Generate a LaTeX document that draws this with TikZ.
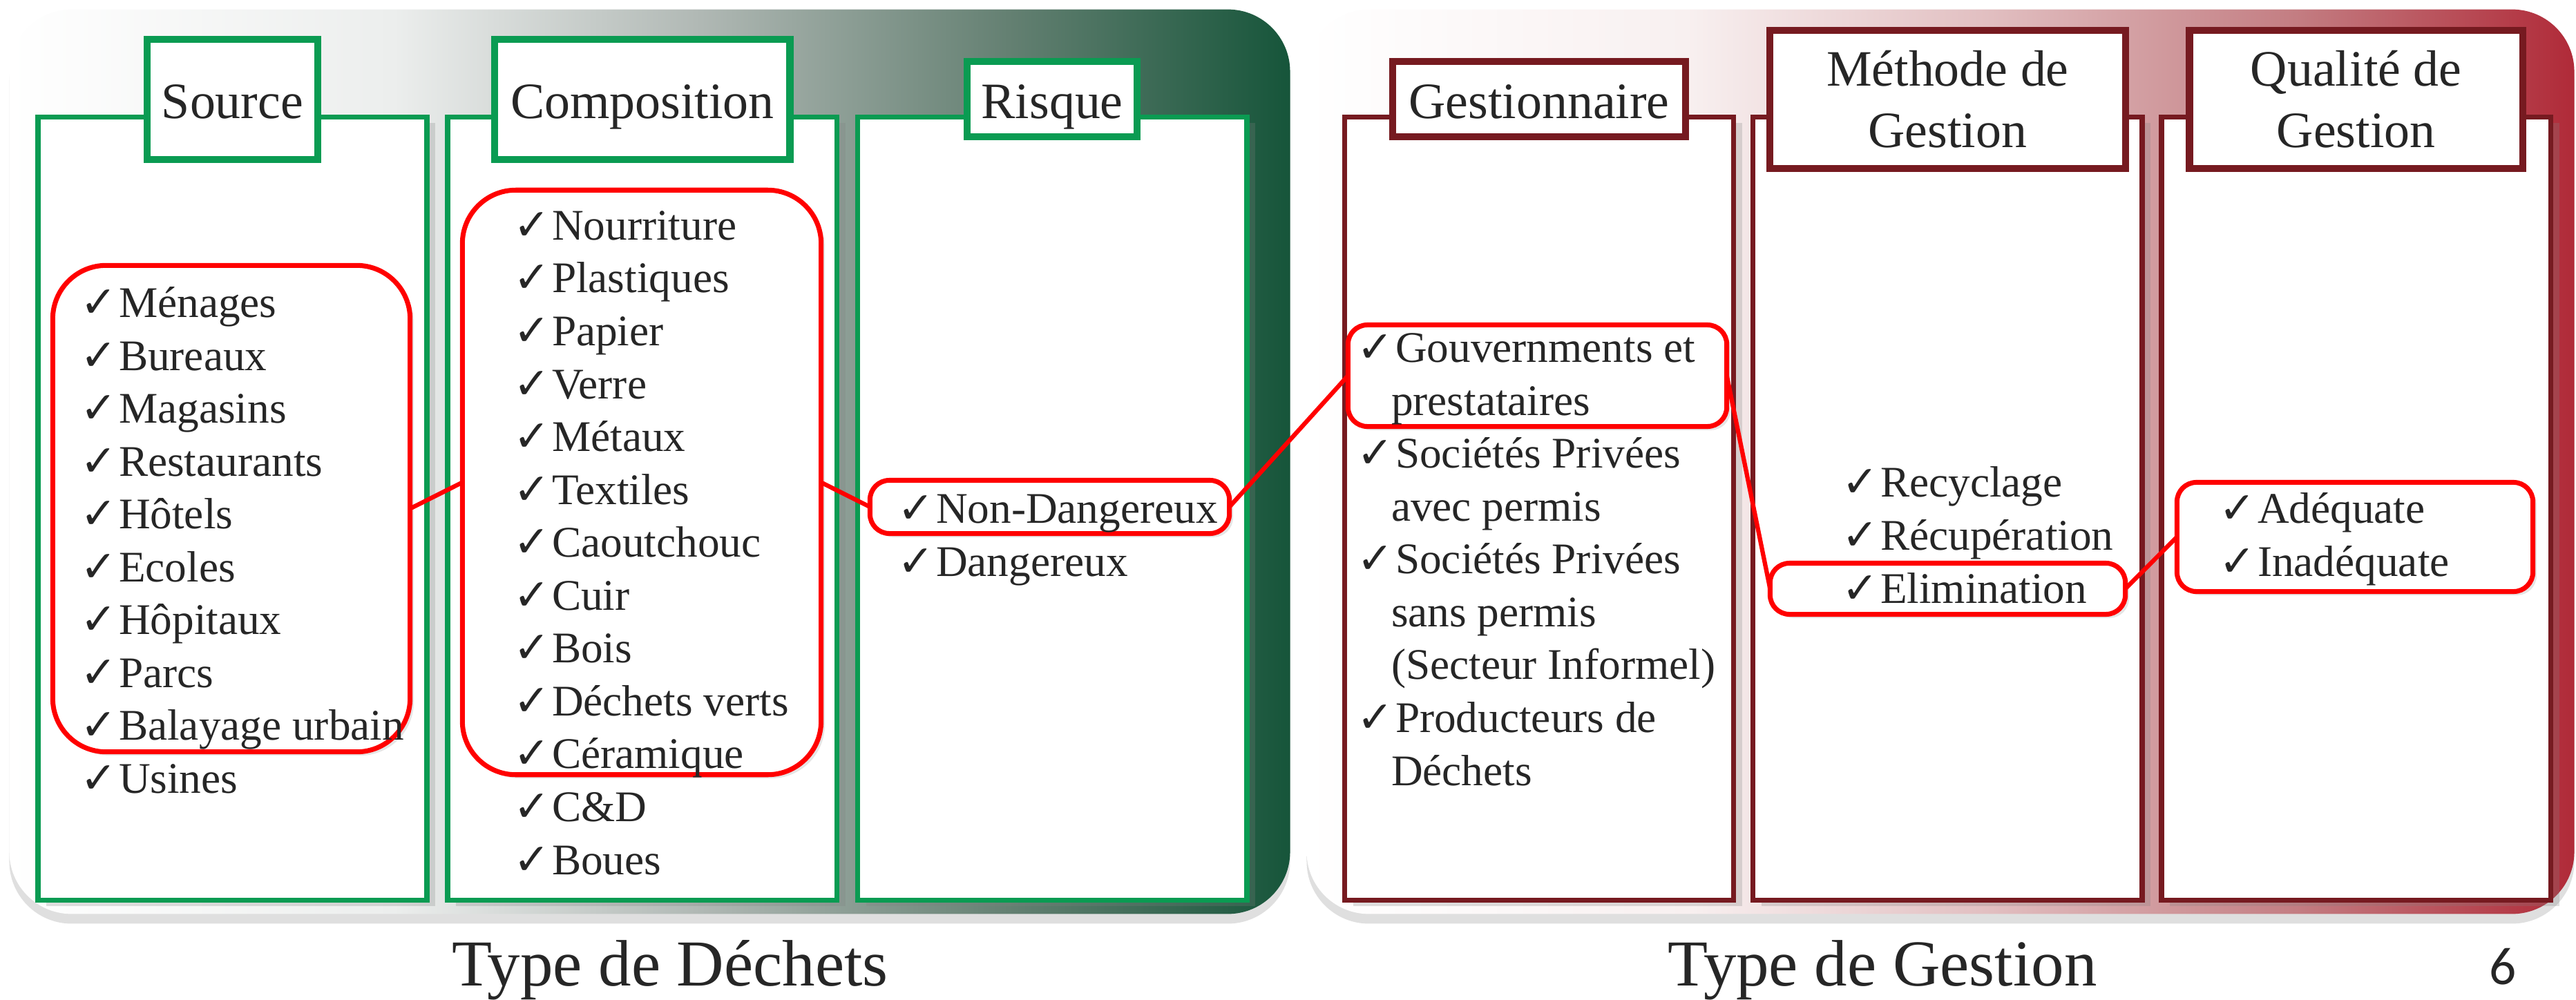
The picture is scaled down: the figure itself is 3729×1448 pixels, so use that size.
\documentclass[tikz,border=0pt]{standalone}
\usepackage{fontspec}
\setmainfont{Liberation Serif}
\newfontfamily\chkfont{DejaVu Sans}
\newfontfamily\numfont{Carlito}
\usetikzlibrary{positioning, shadows}
\definecolor{LeafGreen}{RGB}{10,155,82}
\definecolor{Burgundy}{RGB}{118,26,32}
\definecolor{InkGray}{RGB}{38,38,38}
\definecolor{gfA}{RGB}{236,238,237}
\definecolor{gfB}{RGB}{176,184,180}
\definecolor{gfC}{RGB}{100,128,114}
\definecolor{gfD}{RGB}{22,85,58}
\definecolor{rfA}{RGB}{248,240,240}
\definecolor{rfB}{RGB}{225,190,192}
\definecolor{rfC}{RGB}{195,125,130}
\definecolor{rfD}{RGB}{176,42,56}
\pgfdeclarehorizontalshading{greenfade}{100bp}{color(0bp)=(white); color(25bp)=(white); color(40bp)=(gfA); color(52bp)=(gfB); color(64bp)=(gfC); color(75bp)=(gfD); color(100bp)=(gfD)}
\pgfdeclarehorizontalshading{redfade}{100bp}{color(0bp)=(white); color(25bp)=(white); color(40bp)=(rfA); color(52bp)=(rfB); color(64bp)=(rfC); color(75bp)=(rfD); color(100bp)=(rfD)}
\newcommand{\chk}{\makebox[0.56cm][l]{\chkfont\bfseries ✓}}
\newcommand{\cont}{\hspace*{0.5cm}}

\begin{document}
\begin{tikzpicture}[x=0.01cm, y=-0.01cm,
    panel/.style={rectangle, rounded corners=0.9cm, inner sep=0, outer sep=0, minimum height=13.09cm,
      drop shadow={shadow xshift=0pt, shadow yshift=-4pt, opacity=0.25}},
    column/.style={rectangle, fill=white, line width=2.1pt, inner sep=0, outer sep=0,
      minimum width=5.63cm, minimum height=11.33cm,
      drop shadow={shadow xshift=3.5pt, shadow yshift=-2.5pt, opacity=0.25}},
    greencol/.style={column, draw=LeafGreen},
    redcol/.style={column, draw=Burgundy},
    ttl/.style={rectangle, fill=white, line width=2.9pt, inner sep=0, outer sep=0, align=center,
      text=InkGray, font=\fontsize{21pt}{25.3pt}\selectfont},
    ttlone/.style={ttl, text height=16pt, text depth=0pt},
    sel/.style={rectangle, draw=red, fill=white, line width=2pt, inner sep=0, outer sep=0, rounded corners=8pt,
      drop shadow={shadow xshift=1.5pt, shadow yshift=-1.5pt, opacity=0.2}},
    itemlist/.style={anchor=base west, align=left, inner sep=0, outer sep=0, text=InkGray,
      font=\fontsize{18pt}{21.77pt}\selectfont},
    caption/.style={anchor=base, inner sep=0, text=InkGray, font=\fontsize{27pt}{32pt}\selectfont},
    link/.style={draw=red, line width=1.8pt}]
  \useasboundingbox (0,0) rectangle (3729,1448);

  % Panels
  \node [panel, shade, shading=greenfade, minimum width=18.53cm] (wastepanel) at (940.5,668.5) {};
  \node [panel, shade, shading=redfade, minimum width=18.34cm] (mgmtpanel) at (2809,668.5) {};

  % Columns
  \node [greencol] (srccol) at (336.5,736.5) {};
  \node [greencol, right=0.3cm of srccol] (compcol) {};
  \node [greencol, right=0.3cm of compcol] (riskcol) {};
  \node [redcol] (gestcol) at (2228,736.5) {};
  \node [redcol, right=0.28cm of gestcol] (methcol) {};
  \node [redcol, right=0.28cm of methcol] (qualcol) {};

  % Titles
  \node [ttlone, draw=LeafGreen, minimum width=2.47cm, minimum height=1.74cm] (srcttl) at ([yshift=0.26cm]srccol.north) {Source};
  \node [ttlone, draw=LeafGreen, minimum width=4.27cm, minimum height=1.74cm] (compttl) at ([yshift=0.26cm]compcol.north) {Composition};
  \node [ttlone, draw=LeafGreen, minimum width=2.46cm, minimum height=1.09cm] (riskttl) at ([yshift=0.26cm]riskcol.north) {Risque};
  \node [ttlone, draw=Burgundy, minimum width=4.24cm, minimum height=1.09cm] (gestttl) at ([yshift=0.26cm]gestcol.north) {Gestionnaire};
  \node [ttl, draw=Burgundy, minimum width=5.15cm, minimum height=2.0cm] (methttl) at ([yshift=0.26cm]methcol.north) {Méthode de\\Gestion};
  \node [ttl, draw=Burgundy, minimum width=4.82cm, minimum height=2.0cm] (qualttl) at ([yshift=0.26cm]qualcol.north) {Qualité de\\Gestion};

  % Highlights
  \node [sel, rounded corners=22pt, minimum width=5.17cm, minimum height=7.04cm] (srcsel) at (335,736.5) {};
  \node [sel, rounded corners=22pt, minimum width=5.19cm, minimum height=8.46cm] (compsel) at (929,698.5) {};
  \node [sel, minimum width=5.20cm, minimum height=0.77cm] (nondsel) at (1519.5,734) {};
  \node [sel, minimum width=5.48cm, minimum height=1.47cm] (gouvsel) at (2225.5,544) {};
  \node [sel, minimum width=5.14cm, minimum height=0.74cm] (elimsel) at (2819.5,852.5) {};
  \node [sel, minimum width=5.15cm, minimum height=1.58cm] (qualsel) at (3409,777.5) {};

  % Lists (anchored on the baseline of the last line)
  \node [itemlist] (srclist) at (116,1148.5) {\chk Ménages\\ \chk Bureaux\\ \chk Magasins\\ \chk Restaurants\\ \chk Hôtels\\ \chk Ecoles\\ \chk Hôpitaux\\ \chk Parcs\\ \chk Balayage urbain\\ \chk Usines};
  \node [itemlist] (complist) at (743,1266) {\chk Nourriture\\ \chk Plastiques\\ \chk Papier\\ \chk Verre\\ \chk Métaux\\ \chk Textiles\\ \chk Caoutchouc\\ \chk Cuir\\ \chk Bois\\ \chk Déchets verts\\ \chk Céramique\\ \chk C\&D\\ \chk Boues};
  \node [itemlist] (risklist) at (1299,834.5) {\chk Non-Dangereux\\ \chk Dangereux};
  \node [itemlist] (gestlist) at (1964,1137) {\chk Gouvernments et\\ \cont prestataires\\ \chk Sociétés Privées\\ \cont avec permis\\ \chk Sociétés Privées\\ \cont sans permis\\ \cont (Secteur Informel)\\ \chk Producteurs de\\ \cont Déchets};
  \node [itemlist] (methlist) at (2666,873) {\chk Recyclage\\ \chk Récupération\\ \chk Elimination};
  \node [itemlist] (quallist) at (3212,834.5) {\chk Adéquate\\ \chk Inadéquate};

  % Connectors
  \draw [link] (srcsel.east) -- (compsel.west);
  \draw [link] (compsel.east) -- (nondsel.west);
  \draw [link] (nondsel.east) -- (gouvsel.west);
  \draw [link] (gouvsel.east) -- (elimsel.west);
  \draw [link] (elimsel.east) -- (qualsel.west);

  % Captions
  \node [caption] (wastelbl) at (970,1427) {Type de Déchets};
  \node [caption] (mgmtlbl) at (2725,1427) {Type de Gestion};
  \node [caption, font=\numfont\fontsize{22pt}{26pt}\selectfont] (pagenum) at (3623,1425) {6};
\end{tikzpicture}
\end{document}
